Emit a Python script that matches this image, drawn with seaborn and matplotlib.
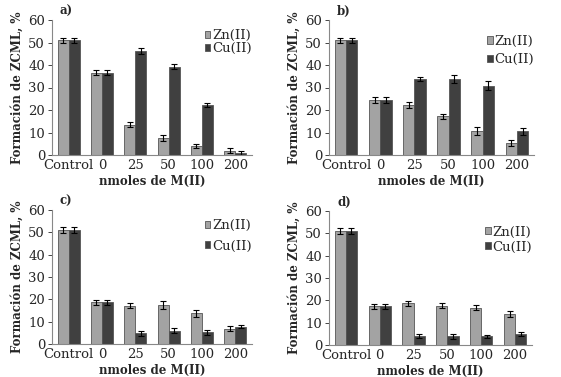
import numpy as np
import pandas as pd
import matplotlib
matplotlib.use("Agg")
import matplotlib.pyplot as plt
import seaborn as sns

# categorias y series
categories = ['Control', '0', '25', '50', '100', '200']
metals = ['Zn(II)', 'Cu(II)']

zn_a = [51.0, 36.5, 13.5, 7.7, 4.0, 2.0]
cu_a = [51.0, 36.5, 46.3, 39.3, 22.3, 1.0]
zn_a_err = [1.2, 1.1, 1.0, 1.3, 0.9, 1.0]
cu_a_err = [1.2, 1.1, 1.3, 1.1, 0.8, 0.8]

zn_b = [51.0, 24.5, 22.3, 17.2, 10.5, 5.2]
cu_b = [51.0, 24.5, 33.8, 33.8, 30.7, 10.5]
zn_b_err = [1.2, 1.3, 1.2, 1.0, 1.8, 1.4]
cu_b_err = [1.2, 1.3, 1.0, 1.7, 2.0, 1.4]

zn_c = [51.0, 18.7, 17.1, 17.5, 13.8, 6.9]
cu_c = [51.0, 18.7, 4.8, 6.0, 5.2, 7.8]
zn_c_err = [1.2, 1.2, 1.2, 1.8, 1.5, 1.3]
cu_c_err = [1.2, 1.2, 1.0, 1.1, 1.0, 0.5]

zn_d = [51.0, 17.3, 18.7, 17.6, 16.7, 13.9]
cu_d = [51.0, 17.3, 4.2, 4.0, 3.9, 5.0]
zn_d_err = [1.3, 1.0, 1.2, 1.2, 1.1, 1.2]
cu_d_err = [1.3, 1.0, 0.9, 1.1, 0.8, 0.8]

panels = [
    ('a)', zn_a, cu_a, zn_a_err, cu_a_err),
    ('b)', zn_b, cu_b, zn_b_err, cu_b_err),
    ('c)', zn_c, cu_c, zn_c_err, cu_c_err),
    ('d)', zn_d, cu_d, zn_d_err, cu_d_err),
]

sns.set_style('white')
plt.rcParams['font.family'] = ['DejaVu Serif']

colores = {'Zn(II)': '#a3a3a3', 'Cu(II)': '#404040'}

fig = plt.figure(figsize=(5.61, 3.77), dpi=100)
# posiciones de los ejes en pixeles (izq, abajo, ancho, alto)
boxes = [(52, 222, 200, 135), (329, 222, 205, 135), (52, 33, 200, 134), (329, 32, 203, 134)]
# leyenda: posicion (fraccion de ejes) y separacion entre entradas
leg_pos = [(1.04, 0.99), (1.04, 0.95), (1.04, 0.99), (1.04, 0.95)]
leg_sep = [0.0, 0.4, 0.55, 0.15]

for (letra, zn, cu, zn_err, cu_err), (x0, y0, w, h), lp, ls in zip(panels, boxes, leg_pos, leg_sep):
    ax = fig.add_axes([x0 / 561, y0 / 377, w / 561, h / 377])
    df = pd.DataFrame({
        'dosis': categories * 2,
        'metal': ['Zn(II)'] * 6 + ['Cu(II)'] * 6,
        'valor': zn + cu,
    })
    sns.barplot(data=df, x='dosis', y='valor', hue='metal', order=categories,
                hue_order=metals, palette=colores, width=0.66, errorbar=None,
                edgecolor='#555555', linewidth=0.6, ax=ax)
    errs = zn_err + cu_err
    for p, e in zip(ax.patches[:12], errs):
        ax.errorbar(p.get_x() + p.get_width() / 2, p.get_height(), yerr=e,
                    color='black', capsize=2, elinewidth=0.8, capthick=0.8)
    ax.set_ylim(0, 60)
    ax.set_xlim(-0.5, 5.5)
    ax.set_yticks(range(0, 61, 10))
    ax.tick_params(axis='y', length=3, width=0.6, labelsize=9.5, pad=2, left=True)
    ax.tick_params(axis='x', length=0, labelsize=9.5, pad=3)
    sns.despine(ax=ax)
    for s in ['left', 'bottom']:
        ax.spines[s].set_color('#888888')
        ax.spines[s].set_linewidth(0.8)
    ax.set_xlabel('nmoles de M(II)', fontsize=8.5, fontweight='bold', labelpad=2)
    ax.set_ylabel('Formación de ZCML, %', fontsize=8.5, fontweight='bold', labelpad=3)
    ax.text(0.04, 1.04, letra, transform=ax.transAxes, fontsize=8.5, fontweight='bold')
    ax.legend(loc='upper right', bbox_to_anchor=lp, frameon=False, fontsize=9.5,
              handlelength=0.45, handleheight=0.45, handletextpad=0.15, labelspacing=ls,
              borderaxespad=0.2)

fig.savefig('out.png', dpi=100)
